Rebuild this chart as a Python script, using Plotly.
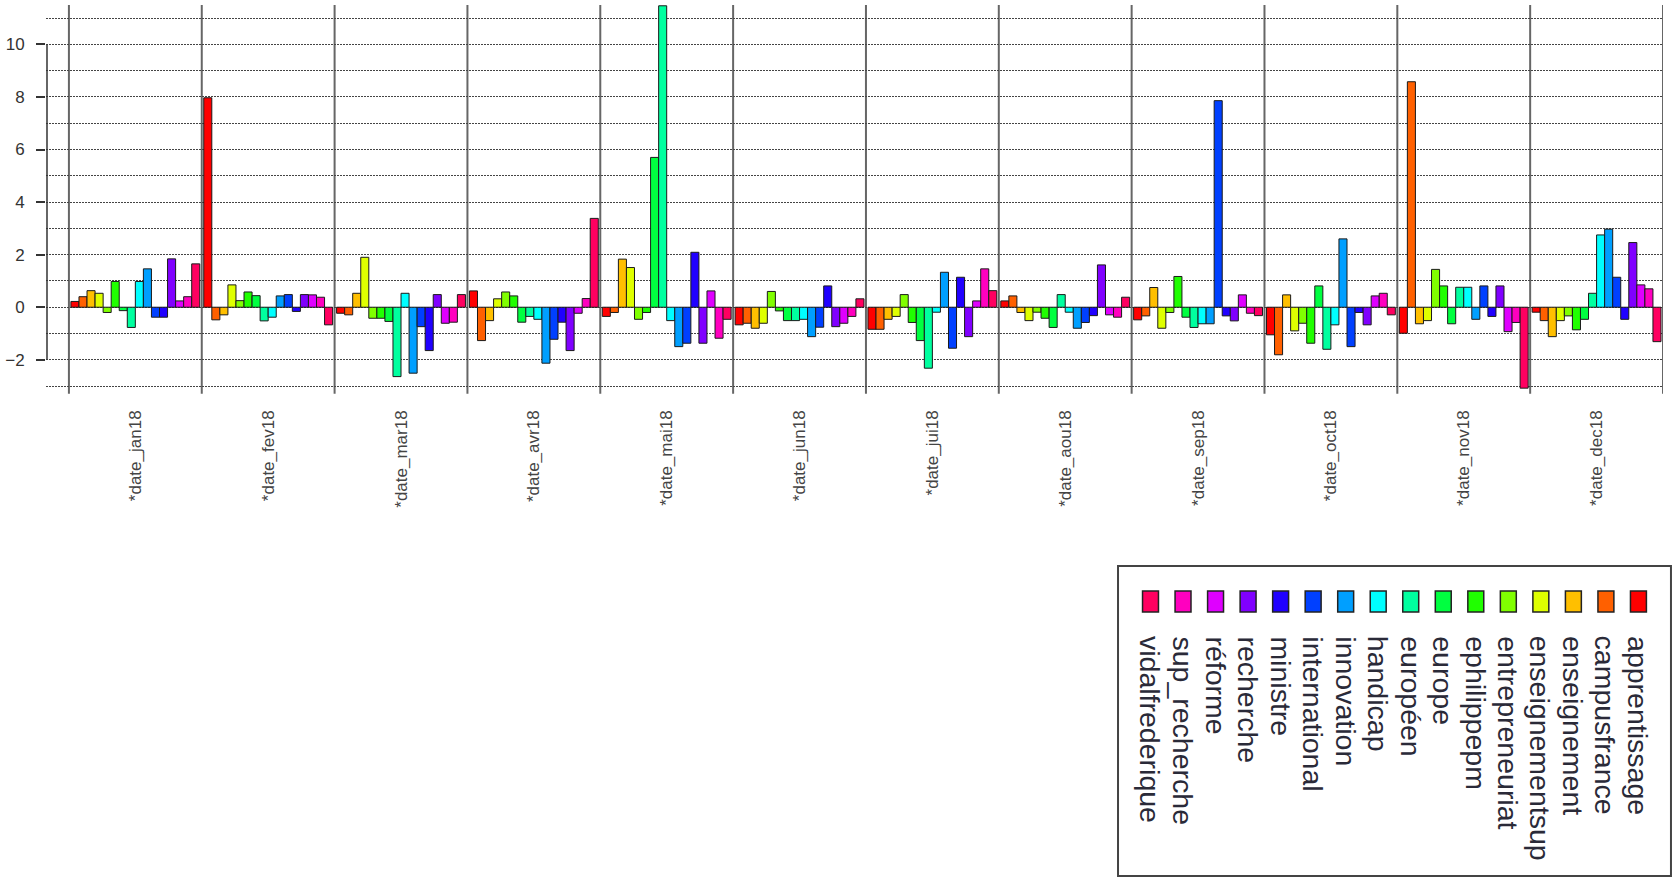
import plotly.graph_objects as go

# ---- data -------------------------------------------------------------
terms = ["apprentissage", "campusfrance", "enseignement", "enseignementsup",
         "entrepreneuriat", "ephilippepm", "europe", "européen", "handicap",
         "innovation", "international", "ministre", "recherche", "réforme",
         "sup_recherche", "vidalfrederique"]

months = ["*date_jan18", "*date_fev18", "*date_mar18", "*date_avr18",
          "*date_mai18", "*date_jun18", "*date_jui18", "*date_aou18",
          "*date_sep18", "*date_oct18", "*date_nov18", "*date_dec18"]

# one list per month, values in the order of `terms`
jan18 = [0.22, 0.40, 0.63, 0.53, -0.20, 0.98, -0.13, -0.77, 0.98, 1.46, -0.38, -0.38, 1.84, 0.24, 0.40, 1.65]
fev18 = [7.97, -0.48, -0.29, 0.85, 0.25, 0.58, 0.44, -0.52, -0.38, 0.43, 0.48, -0.16, 0.48, 0.47, 0.38, -0.67]
mar18 = [-0.23, -0.29, 0.53, 1.90, -0.42, -0.42, -0.54, -2.64, 0.53, -2.51, -0.74, -1.65, 0.48, -0.61, -0.57, 0.48]
avr18 = [0.62, -1.27, -0.51, 0.32, 0.58, 0.43, -0.57, -0.35, -0.46, -2.13, -1.22, -0.57, -1.65, -0.23, 0.33, 3.38]
mai18 = [-0.35, -0.20, 1.83, 1.51, -0.46, -0.20, 5.70, 11.47, -0.51, -1.50, -1.37, 2.09, -1.37, 0.62, -1.18, -0.46]
jun18 = [-0.67, -0.61, -0.80, -0.61, 0.60, -0.14, -0.51, -0.51, -0.46, -1.12, -0.76, 0.81, -0.74, -0.61, -0.35, 0.32]
jui18 = [-0.84, -0.84, -0.46, -0.35, 0.48, -0.58, -1.27, -2.32, -0.19, 1.33, -1.56, 1.14, -1.12, 0.24, 1.46, 0.63]
aou18 = [0.24, 0.43, -0.20, -0.51, -0.19, -0.42, -0.77, 0.48, -0.19, -0.80, -0.58, -0.32, 1.61, -0.29, -0.38, 0.38]
sep18 = [-0.48, -0.33, 0.75, -0.80, -0.20, 1.17, -0.38, -0.77, -0.63, -0.63, 7.86, -0.33, -0.52, 0.47, -0.23, -0.32]
oct18 = [-1.05, -1.81, 0.47, -0.90, -0.61, -1.37, 0.81, -1.60, -0.67, 2.60, -1.50, -0.20, -0.67, 0.43, 0.53, -0.29]
nov18 = [-0.99, 8.58, -0.63, -0.51, 1.44, 0.81, -0.63, 0.76, 0.76, -0.46, 0.81, -0.35, 0.81, -0.93, -0.58, -3.08]
dec18 = [-0.19, -0.51, -1.12, -0.51, -0.33, -0.86, -0.46, 0.53, 2.75, 2.97, 1.14, -0.46, 2.46, 0.85, 0.70, -1.31]

y_tick_vals = [-2, 0, 2, 4, 6, 8, 10]
y_minor_vals = [-3, -1, 1, 3, 5, 7, 9, 11]

# ---- styling ------------------------------------------------------------
colors = ["#FF0000", "#FF6000", "#FFBF00", "#DFFF00", "#80FF00", "#20FF00",
          "#00FF40", "#00FF9F", "#00FFFF", "#009FFF", "#0040FF", "#2000FF",
          "#8000FF", "#DF00FF", "#FF00BF", "#FF0060"]

W, H = 1673, 877
L, R, T, B = 40, 10, 5, 487
PW, PH = W - L - R, H - T - B
FONT = "Liberation Sans, Arial, sans-serif"


def px2x(px):
    return (px - L) / PW


def py2y(py):
    return (T + PH - py) / PH


table = [jan18, fev18, mar18, avr18, mai18, jun18,
         jui18, aou18, sep18, oct18, nov18, dec18]

fig = go.Figure()
for k, term in enumerate(terms):
    fig.add_trace(go.Bar(
        x=months,
        y=[row[k] for row in table],
        name=term,
        marker=dict(color=colors[k], line=dict(color="#1a1a1a", width=1)),
        showlegend=False,
    ))

n = len(months)
group_px = 133.3
extra = (63 - L) / group_px  # gridlines start a little left of first group

shapes = []
# vertical group separators
for i in range(n + 1):
    shapes.append(dict(type="line", xref="x", yref="paper",
                       x0=i - 0.5, x1=i - 0.5, y0=-0.01, y1=1,
                       line=dict(color="#666666", width=2), layer="between"))
# y axis line (R style, spanning labelled ticks only)
shapes.append(dict(type="line", xref="paper", yref="y",
                   x0=px2x(41), x1=px2x(41), y0=y_tick_vals[0], y1=y_tick_vals[-1],
                   line=dict(color="#333333", width=1.5)))

# custom legend (rotated labels)
shapes.append(dict(type="rect", xref="paper", yref="paper",
                   x0=px2x(1116), x1=px2x(1671), y0=py2y(876), y1=py2y(566),
                   line=dict(color="#444444", width=2), fillcolor="rgba(0,0,0,0)"))
annotations = []
first_cx, step = 1148.6, 32.65
for j, k in enumerate(reversed(range(len(terms)))):
    cx = first_cx + j * step
    shapes.append(dict(type="rect", xref="paper", yref="paper",
                       x0=px2x(cx - 8), x1=px2x(cx + 8),
                       y0=py2y(612), y1=py2y(591),
                       line=dict(color="#222222", width=1.5),
                       fillcolor=colors[k]))
    annotations.append(dict(xref="paper", yref="paper",
                            x=px2x(cx), y=py2y(634),
                            xanchor="center", yanchor="top",
                            text=terms[k], textangle=90, showarrow=False,
                            font=dict(family=FONT, size=28.5, color="#2a2a38")))

fig.update_layout(
    width=W, height=H,
    margin=dict(l=L, r=R, t=T, b=B, pad=0),
    paper_bgcolor="white", plot_bgcolor="white",
    barmode="group", bargap=0.03, bargroupgap=0,
    font=dict(family=FONT, color="#333333"),
    shapes=shapes, annotations=annotations,
    xaxis=dict(
        range=[-0.5 - extra, n - 0.5],
        tickangle=-90, tickfont=dict(size=17, color="#444444"),
        ticks="", showgrid=False, zeroline=False, showline=False,
        ticklabelstandoff=16,
    ),
    yaxis=dict(
        range=[-3.15, 11.5],
        tickmode="array", tickvals=y_tick_vals,
        ticks="outside", ticklen=9, tickwidth=1.5, tickcolor="#333333",
        tickfont=dict(size=17, color="#333333"),
        ticklabelstandoff=8,
        showgrid=True, gridcolor="#444444", griddash="1.5px,1.5px", gridwidth=1,
        minor=dict(tickvals=y_minor_vals, showgrid=True, gridcolor="#444444",
                   griddash="1.5px,1.5px", gridwidth=1, ticks=""),
        zeroline=False, showline=False,
    ),
)

fig.write_html("out.html",
               config={"displayModeBar": False},
               post_script="document.body.style.margin='0';document.body.style.overflow='hidden';")
